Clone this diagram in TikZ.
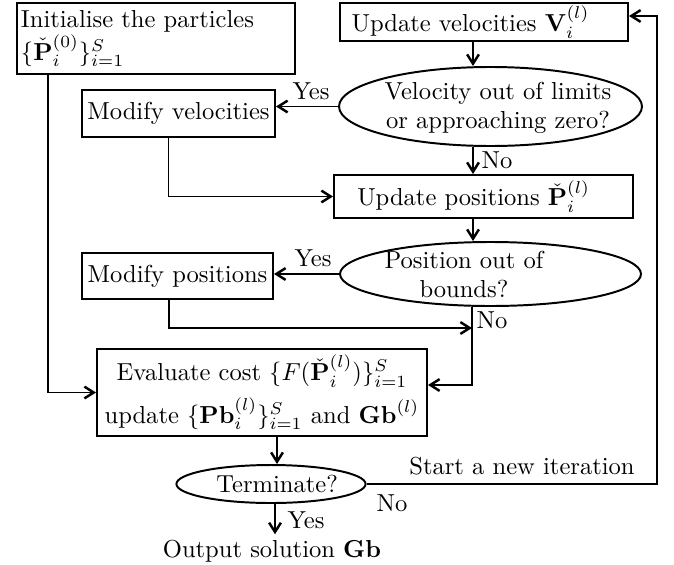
\documentclass[tikz,border=0pt]{standalone}
\usetikzlibrary{shapes.geometric,arrows.meta}
\newcommand\pxu{0.4072pt}
\begin{document}
\begin{tikzpicture}[x=0.4072pt,y=-0.4072pt,
  box/.style={draw,line width=0.8pt,rectangle,inner sep=0pt,align=center},
  dec/.style={draw,ellipse,line width=0.8pt,inner sep=0pt},
  arr/.style={line width=0.8pt,-{Straight Barb[length=3.8pt,width=4.8pt,line width=1pt]}},
  lbl/.style={inner sep=0pt,align=center}]
\useasboundingbox (0,0) rectangle (674,564);
% boxes
\node[box,minimum width={278*\pxu},minimum height={71*\pxu},text width={270*\pxu},align=left] (init) at (156,38.5)
  {Initialise the particles\\$\{\check{\mathbf{P}}_i^{(0)}\}_{i=1}^{S}$};
\node[box,minimum width={288*\pxu},minimum height={38*\pxu}] (updv) at (484,22)
  {Update velocities $\mathbf{V}_i^{(l)}$\hspace*{11pt}};
\node[dec,minimum width={303*\pxu},minimum height={79*\pxu}] (e1) at (490.5,106.5) {};
\node[lbl] (e1t) at (498,108) {Velocity out of limits\\or approaching zero?};
\node[box,minimum width={193*\pxu},minimum height={47*\pxu}] (modv) at (178.5,113.5) {Modify velocities};
\node[box,minimum width={299*\pxu},minimum height={43*\pxu}] (updp) at (483.5,196.5)
  {Update positions $\check{\mathbf{P}}_i^{(l)}$\hspace*{8pt}};
\node[dec,minimum width={301*\pxu},minimum height={64*\pxu}] (e2) at (490.5,274) {};
\node[lbl] (e2t) at (464,274.5) {Position out of\\bounds?};
\node[box,minimum width={191*\pxu},minimum height={46*\pxu}] (modp) at (177.5,276) {Modify positions};
\node[box,minimum width={330*\pxu},minimum height={87*\pxu}] (eval) at (262,392.5)
  {Evaluate cost $\{F(\check{\mathbf{P}}_i^{(l)})\}_{i=1}^{S}$\\[3pt]
   update $\{\mathbf{Pb}_i^{(l)}\}_{i=1}^{S}$ and $\mathbf{Gb}^{(l)}$};
\node[dec,minimum width={184*\pxu},minimum height={38*\pxu}] (term) at (271,484) {\hspace*{5pt}Terminate?};
\node[lbl,anchor=base,inner sep=2pt] (out) at (272,557) {Output solution $\mathbf{Gb}$};
% labels
\node[lbl] (y1) at (311,91) {Yes};
\node[lbl] (n1) at (497,160) {No};
\node[lbl] (y2) at (313,258) {Yes};
\node[lbl] (n2) at (492,320) {No};
\node[lbl] (it) at (522,466) {Start a new iteration};
\node[lbl] (n3) at (392,503) {No};
\node[lbl] (y3) at (306,520) {Yes};
% helper coordinates
\coordinate (cx) at (473,0);
\coordinate (j1) at (472,328);
\coordinate (j2) at (472,385);
\coordinate (tx) at (277,0);
\coordinate (ox) at (275,0);
\coordinate (r2) at (657,16);
% connectors
\draw[arr] (updv.south -| cx) -- (e1.north -| cx);
\draw[arr] (e1.west) -- (e1.west -| modv.east);
\draw[arr] ([xshift={-10*\pxu}]modv.south) |- (updp.west);
\draw[arr] (e1.south -| cx) -- (updp.north -| cx);
\draw[arr] (updp.south -| cx) -- (e2.north -| cx);
\draw[arr] (e2.west) -- (e2.west -| modp.east);
\draw[arr] ([xshift={-8.5*\pxu}]modp.south) |- (j1);
\draw[arr] (e2.south -| j1) -- (j2) -- (j2 -| eval.east);
\draw[arr] ([xshift={32*\pxu}]init.south west) |- (eval.west);
\draw[arr] (eval.south -| tx) -- (term.north -| tx);
\draw[arr] (term.east) -| (r2) -- (r2 -| updv.east);
\draw[arr] (term.south -| ox) -- (out.north -| ox);
\end{tikzpicture}
\end{document}
